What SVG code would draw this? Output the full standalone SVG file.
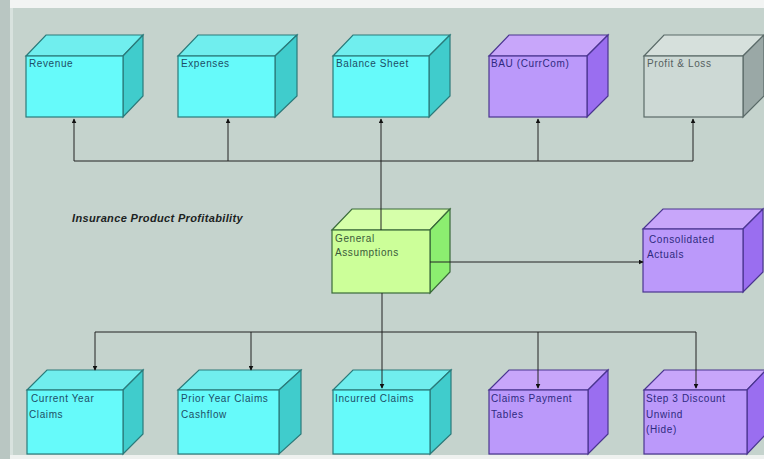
<svg xmlns="http://www.w3.org/2000/svg" width="764" height="459" viewBox="0 0 764 459">
  <defs>
    <marker id="arr" viewBox="0 0 8 8" refX="7" refY="4" markerWidth="5" markerHeight="5" orient="auto" markerUnits="userSpaceOnUse">
      <path d="M0,0 L8,4 L0,8 Z" fill="#111"/>
    </marker>
    <style>
      .lbl { font-family: "Liberation Sans", Arial, sans-serif; font-size: 10px; letter-spacing: 0.6px; }
      .cy .front { fill: #66fafa; } .cy .top { fill: #70eeee; } .cy .side { fill: #40cccc; }
      .cy path, .cy rect { stroke: #2a7a7a; stroke-width: 1.2; } .cy text { fill: #1d4e66; }
      .pu .front { fill: #bb99fa; } .pu .top { fill: #c8a6fa; } .pu .side { fill: #9a6ef0; }
      .pu path, .pu rect { stroke: #4a3590; stroke-width: 1.2; } .pu text { fill: #2e2a80; }
      .gr .front { fill: #cdd9d5; } .gr .top { fill: #d6e0dc; } .gr .side { fill: #9aa8a6; }
      .gr path, .gr rect { stroke: #5a6a68; stroke-width: 1.2; } .gr text { fill: #556060; }
      .gn .front { fill: #ccff99; } .gn .top { fill: #d6ffaa; } .gn .side { fill: #8cee70; }
      .gn path, .gn rect { stroke: #3a6a3a; stroke-width: 1.2; } .gn text { fill: #3a5a3a; }
      .conn path { fill: none; stroke: #222; stroke-width: 1; }
    </style>
  </defs>

  <!-- canvas -->
  <rect x="0" y="0" width="764" height="459" fill="#c5d3cd"/>
  <rect x="0" y="0" width="764" height="8" fill="#f2f4f3"/>
  <rect x="0" y="455" width="764" height="4" fill="#eef1ef"/>
  <rect x="0" y="0" width="10" height="459" fill="#b9c6c2"/>
  <rect x="10" y="8" width="3" height="447" fill="#d8e2de"/>

  <text x="72" y="222" font-family="Liberation Sans, Arial, sans-serif" font-size="11" font-weight="bold" font-style="italic" fill="#1b2222" letter-spacing="0.35">Insurance Product Profitability</text>

  <!-- top row -->
  <g id="revenue" class="cy">
    <path class="top" d="M26,56 L46,35 H143 L123,56 Z"/>
    <path class="side" d="M123,56 L143,35 V96 L123,117 Z"/>
    <rect class="front" x="26" y="56" width="97" height="61"/>
    <text class="lbl" x="29" y="67">Revenue</text>
  </g>
  <g id="expenses" class="cy">
    <path class="top" d="M178,56 L198,35 H297 L275,56 Z"/>
    <path class="side" d="M275,56 L297,35 V96 L275,117 Z"/>
    <rect class="front" x="178" y="56" width="97" height="61"/>
    <text class="lbl" x="181" y="67">Expenses</text>
  </g>
  <g id="balance-sheet" class="cy">
    <path class="top" d="M333,56 L353,35 H450 L429,56 Z"/>
    <path class="side" d="M429,56 L450,35 V96 L429,117 Z"/>
    <rect class="front" x="333" y="56" width="96" height="61"/>
    <text class="lbl" x="336" y="67">Balance Sheet</text>
  </g>
  <g id="bau" class="pu">
    <path class="top" d="M489,56 L509,35 H608 L587,56 Z"/>
    <path class="side" d="M587,56 L608,35 V96 L587,117 Z"/>
    <rect class="front" x="489" y="56" width="98" height="61"/>
    <text class="lbl" x="491" y="67">BAU (CurrCom)</text>
  </g>
  <g id="profit-loss" class="gr">
    <path class="top" d="M644,56 L664,35 H764 L743,56 Z"/>
    <path class="side" d="M743,56 L764,35 V96 L743,117 Z"/>
    <rect class="front" x="644" y="56" width="99" height="61"/>
    <text class="lbl" x="647" y="67">Profit &amp; Loss</text>
  </g>

  <!-- middle row -->
  <g id="general-assumptions" class="gn">
    <path class="top" d="M332,230 L352,209 H450 L430,230 Z"/>
    <path class="side" d="M430,230 L450,209 V272 L430,293 Z"/>
    <rect class="front" x="332" y="230" width="98" height="63"/>
    <text class="lbl" x="335" y="242">General</text>
    <text class="lbl" x="335" y="256">Assumptions</text>
  </g>
  <g id="consolidated-actuals" class="pu">
    <path class="top" d="M643,229 L663,209 H763 L743,229 Z"/>
    <path class="side" d="M743,229 L763,209 V272 L743,292 Z"/>
    <rect class="front" x="643" y="229" width="100" height="63"/>
    <text class="lbl" x="649" y="243">Consolidated</text>
    <text class="lbl" x="647" y="258">Actuals</text>
  </g>

  <!-- bottom row -->
  <g id="current-year-claims" class="cy">
    <path class="top" d="M27,390 L47,370 H143 L123,390 Z"/>
    <path class="side" d="M123,390 L143,370 V434 L123,454 Z"/>
    <rect class="front" x="27" y="390" width="96" height="64"/>
    <text class="lbl" x="31" y="402">Current Year</text>
    <text class="lbl" x="29" y="418">Claims</text>
  </g>
  <g id="prior-year-claims" class="cy">
    <path class="top" d="M178,390 L199,370 H301 L279,390 Z"/>
    <path class="side" d="M279,390 L301,370 V434 L279,454 Z"/>
    <rect class="front" x="178" y="390" width="101" height="64"/>
    <text class="lbl" x="181" y="402">Prior Year Claims</text>
    <text class="lbl" x="181" y="418">Cashflow</text>
  </g>
  <g id="incurred-claims" class="cy">
    <path class="top" d="M333,390 L353,370 H451 L430,390 Z"/>
    <path class="side" d="M430,390 L451,370 V434 L430,454 Z"/>
    <rect class="front" x="333" y="390" width="97" height="64"/>
    <text class="lbl" x="335" y="402">Incurred Claims</text>
  </g>
  <g id="claims-payment-tables" class="pu">
    <path class="top" d="M489,390 L509,370 H608 L588,390 Z"/>
    <path class="side" d="M588,390 L608,370 V434 L588,454 Z"/>
    <rect class="front" x="489" y="390" width="99" height="64"/>
    <text class="lbl" x="491" y="402">Claims Payment</text>
    <text class="lbl" x="491" y="418">Tables</text>
  </g>
  <g id="step3-discount-unwind" class="pu">
    <path class="top" d="M644,390 L664,370 H766 L747,390 Z"/>
    <path class="side" d="M747,390 L766,370 V434 L747,454 Z"/>
    <rect class="front" x="644" y="390" width="103" height="64"/>
    <text class="lbl" x="646" y="402">Step 3 Discount</text>
    <text class="lbl" x="646" y="418">Unwind</text>
    <text class="lbl" x="646" y="433">(Hide)</text>
  </g>

  <!-- connectors, drawn over the boxes -->
  <g class="conn">
    <path d="M381,230 V161"/>
    <path d="M74,161 H693"/>
    <path d="M74,161 V119" marker-end="url(#arr)"/>
    <path d="M228,161 V119" marker-end="url(#arr)"/>
    <path d="M381,161 V119" marker-end="url(#arr)"/>
    <path d="M538,161 V119" marker-end="url(#arr)"/>
    <path d="M693,161 V119" marker-end="url(#arr)"/>
    <path d="M430,262 H643" marker-end="url(#arr)"/>
    <path d="M382,293 V332"/>
    <path d="M95,332 H696"/>
    <path d="M95,332 V370" marker-end="url(#arr)"/>
    <path d="M251,332 V370" marker-end="url(#arr)"/>
    <path d="M382,332 V388" marker-end="url(#arr)"/>
    <path d="M538,332 V388" marker-end="url(#arr)"/>
    <path d="M696,332 V388" marker-end="url(#arr)"/>
  </g>
</svg>
